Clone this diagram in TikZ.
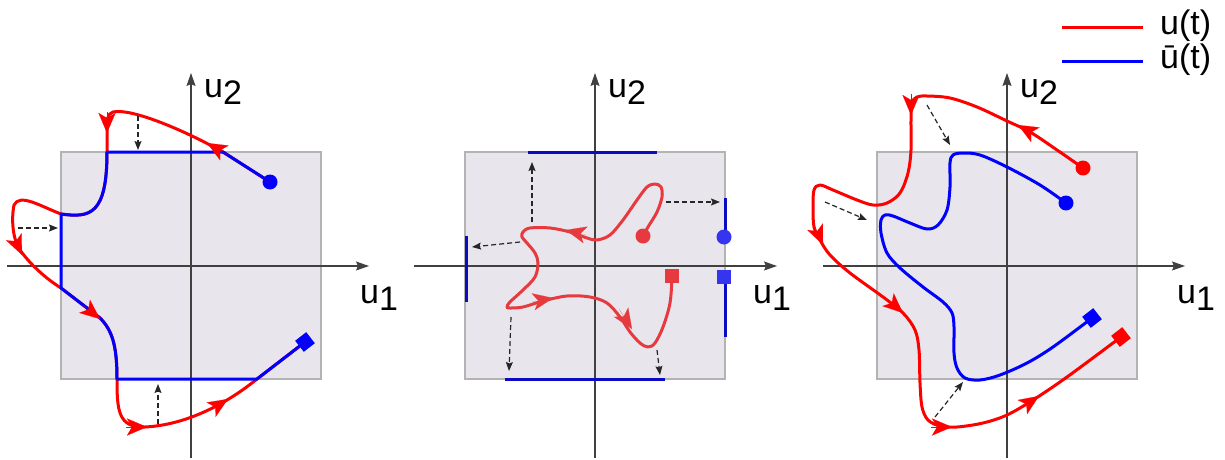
\documentclass[tikz,border=0pt]{standalone}
\usepackage{fontspec}
\setmainfont{Liberation Sans}
\usetikzlibrary{arrows.meta}
\definecolor{ured}{HTML}{FF0000}
\definecolor{ublue}{HTML}{0000FF}
\definecolor{pred}{HTML}{E63A3F}
\definecolor{pblue}{HTML}{0B0BC4}
\definecolor{lblue}{HTML}{3535F0}
\definecolor{boxfill}{HTML}{E8E6EC}
\definecolor{boxedge}{HTML}{B3B3B3}
\begin{document}
\begin{tikzpicture}[x=1pt,y=-1pt,
region/.style={fill=boxfill,draw=boxedge,line width=1.5pt},
axis/.style={draw=black!75,line width=1.1pt,
-{Stealth[length=13pt,width=9pt,inset=2pt]}},
lbl/.style={anchor=base west,inner sep=0pt,
font=\fontsize{34}{38}\selectfont},
traj/.style={line width=3pt,line join=round,line cap=round},
dirtip/.style={line width=0.1pt,-{Stealth[length=20pt,width=17pt,inset=5pt]}},
proj/.style={draw=black!85,line width=1.2pt,dash pattern=on 5pt off 3pt,
-{Stealth[length=9pt,width=7pt,inset=1.5pt]}},
dot/.style={circle,inner sep=0pt,minimum size=15pt},
sqr/.style={rectangle,inner sep=0pt,minimum size=14pt}
]
\useasboundingbox (0,0) rectangle (1225,460);
\foreach \cx/\al/\ar/\lx/\n in {191/7/369/360/a,595/414/777/753/b,1007/823/1185/1177/c}{
\draw[region] ({\cx-130},152) rectangle ({\cx+130},379);
\coordinate (w\n) at (\al,266);
\coordinate (e\n) at (\ar,266);
\coordinate (s\n) at (\cx,458);
\coordinate (n\n) at (\cx,73);
\draw[axis] (w\n) -- (e\n);
\draw[axis] (s\n) -- (n\n);
\node[lbl] (y\n) at ({\cx+13},97) {u\raisebox{-7pt}{2}};
\node[lbl] (x\n) at (\lx,303) {u\raisebox{-7pt}{1}};
}

% left panel
\node[dot,fill=ublue] (c1) at (270,182) {};
\node[sqr,fill=ublue,rotate=38] (d1) at (305,342) {};
\draw[traj,ured] (c1.center) -- (223,152)
.. controls (180,128) and (130,108) .. (113,112)
.. controls (107,114) and (107,120) .. (107,130) -- (107,152)
.. controls (107,215) and (90,218) .. (61,214)
.. controls (40,206) and (20,193) .. (14,205)
.. controls (11,220) and (13,240) .. (20,250)
.. controls (30,264) and (45,278) .. (61,288) -- (100,318)
.. controls (112,330) and (117,345) .. (117,379)
.. controls (117,410) and (118,428) .. (145,427)
.. controls (185,425) and (225,405) .. (257,379) -- (d1.center);
\draw[traj,ublue] (c1.center) -- (223,152) -- (107,152)
.. controls (107,215) and (90,218) .. (61,214) -- (61,288) -- (100,318)
.. controls (112,330) and (117,345) .. (117,379) -- (257,379) -- (d1.center);
\foreach \ax/\ay/\bx/\by in {228/155/207/143,107/112/107/133,13/235/22/255,
83/305/100/319,126/427/147/427,209/411/228/399}
\draw[ured,dirtip] (\ax,\ay) -- (\bx,\by);
\coordinate (p1) at (138,116); \coordinate (q1) at (138,150);
\coordinate (p2) at (18,228);  \coordinate (q2) at (58,228);
\coordinate (p3) at (158,424); \coordinate (q3) at (158,384);

% middle panel
\draw[pblue,line width=3pt] (528,152) -- (657,152) (505,379) -- (665,379)
(466,236) -- (466,302) (725,198) -- (725,237) (725,277) -- (725,337);
\draw[traj,pred] plot[smooth,tension=0.55] coordinates {(643,236) (648,227)
(657,212) (662,197) (661,187) (655,184) (647,187) (637,200) (623,220)
(610,235) (597,240) (587,238) (570,232) (550,228) (530,228) (523,232)
(522,237) (527,243) (535,253) (538,263) (535,277) (523,290) (510,302)
(507,307) (510,308) (523,307) (543,301) (567,296) (590,297) (607,303)
(620,317) (630,332) (640,343) (648,347) (655,343) (663,327) (670,303)
(672,277)};
\node[dot,fill=pred] (c2) at (643,236) {};
\node[sqr,fill=pred] (d2) at (672,276) {};
\node[dot,fill=lblue] (c3) at (724,237) {};
\node[sqr,fill=lblue] (d3) at (724,277) {};
\foreach \ax/\ay/\bx/\by in {586/235/566/230,532/302/553/298,619/309/632/329}
\draw[pred,dirtip] (\ax,\ay) -- (\bx,\by);
\coordinate (p4) at (532,222); \coordinate (q4) at (532,162);
\coordinate (p5) at (520,242); \coordinate (q5) at (472,247);
\coordinate (p6) at (666,202); \coordinate (q6) at (720,202);
\coordinate (p7) at (511,317); \coordinate (q7) at (509,371);
\coordinate (p8) at (657,350); \coordinate (q8) at (660,375);

% right panel
\draw[traj,ublue] plot[smooth,tension=0.55] coordinates {(1066,203) (1040,185)
(1007,167) (980,155) (963,153) (953,155) (950,163) (950,187) (947,210)
(938,225) (927,229) (910,223) (893,216) (885,215) (881,220) (881,233)
(887,253) (900,268) (923,287) (943,302) (952,313) (954,327) (954,353)
(957,368) (965,378) (980,380) (1000,375) (1027,363) (1053,347) (1092,318)};
\draw[traj,ured] plot[smooth,tension=0.55] coordinates {(1083,168) (1057,150)
(1030,132) (1007,121) (977,107) (950,98) (927,96) (917,97) (912,103)
(911,120) (911,150) (908,173) (900,193) (887,203) (873,205) (857,200)
(833,190) (820,185) (814,190) (813,207) (814,227) (820,240) (830,255)
(850,273) (883,297) (903,313) (915,330) (919,350) (920,383) (922,407)
(928,420) (940,426) (957,427) (983,423) (1007,415) (1033,400) (1067,377)
(1121,337)};
\node[dot,fill=ublue] (c4) at (1066,203) {};
\node[sqr,fill=ublue,rotate=38] (d4) at (1092,318) {};
\node[dot,fill=ured] (c5) at (1083,168) {};
\node[sqr,fill=ured,rotate=38] (d5) at (1121,337) {};
\foreach \ax/\ay/\bx/\by in {1041/138/1018/125,911/94/911/115,814/224/823/245,
885/297/903/313,931/427/952/427,1018/410/1039/396}
\draw[ured,dirtip] (\ax,\ay) -- (\bx,\by);
\coordinate (p9) at (927,105);  \coordinate (q9) at (950,145);
\coordinate (p10) at (825,202); \coordinate (q10) at (867,220);
\coordinate (p11) at (935,417); \coordinate (q11) at (963,382);

\foreach \a/\b in {p1/q1,p2/q2,p3/q3,p4/q4,p5/q5,p6/q6,p7/q7,p8/q8,
p9/q9,p10/q10,p11/q11}
\draw[proj] (\a) -- (\b);

% legend
\coordinate (r0) at (1062,28); \coordinate (r1) at (1143,28);
\coordinate (b0) at (1062,62); \coordinate (b1) at (1143,62);
\draw[ured,line width=3pt] (r0) -- (r1);
\draw[ublue,line width=3pt] (b0) -- (b1);
\node[lbl] (lu) at (1160,35) {u(t)};
\node[lbl] (lv) at (1160,68) {ū(t)};
\end{tikzpicture}
\end{document}
